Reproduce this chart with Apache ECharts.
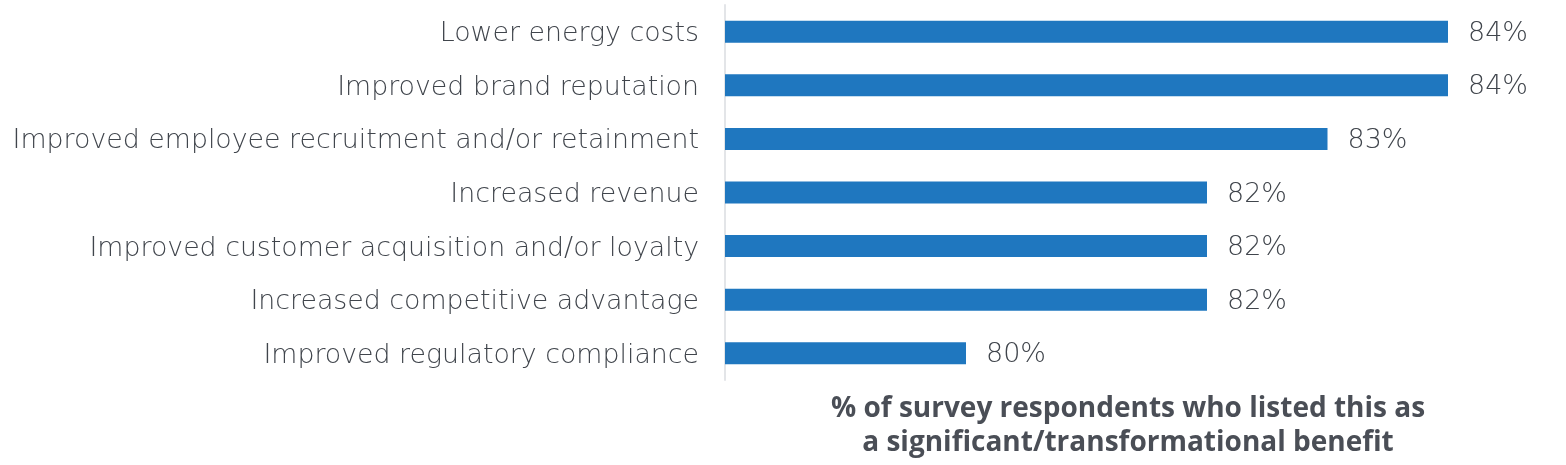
<!DOCTYPE html>
<html><head><meta charset="utf-8">
<script src="https://cdn.jsdelivr.net/npm/echarts@6/dist/echarts.min.js"></script>
<style>html,body{margin:0;padding:0;background:#fff}#c{width:1566px;height:465px}</style>
</head><body><div id="c"></div>
<script>
const categories = ["Lower energy costs","Improved brand reputation","Improved employee recruitment and/or retainment","Increased revenue","Improved customer acquisition and/or loyalty","Increased competitive advantage","Improved regulatory compliance"];
const values = [84,84,83,82,82,82,80];
const axisTitle = ["% of survey respondents who listed this as","a significant/transformational benefit"];

const chart = echarts.init(document.getElementById('c'));
chart.setOption({
  animation:false,
  grid:{left:725,right:118,top:5,bottom:85,containLabel:false},
  xAxis:{type:'value',min:78,max:84,show:false},
  yAxis:{type:'category',inverse:true,data:categories,
    axisLine:{show:true,lineStyle:{color:'#e3e5e8',width:2}},
    axisTick:{show:false},
    axisLabel:{margin:26,formatter:v=>'{a|'+v+'}',
      rich:{a:{color:'#40454c',fontSize:26.8,fontFamily:'DejaVu Sans',fontWeight:200,padding:[5,0,0,0]}}}},
  series:[{type:'bar',data:values,barWidth:22,itemStyle:{color:'#1f77bf'},
    label:{show:true,position:'right',distance:20,offset:[0,2],formatter:'{c}%',color:'#40454c',fontSize:27,fontFamily:'DejaVu Sans',fontWeight:200}}],
  graphic:[{type:'text',x:1128,y:392,style:{text:axisTitle.join('\n'),align:'center',verticalAlign:'top',fill:'#4a4e56',font:'bold 28px "Open Sans"',lineHeight:34}}]
});
</script></body></html>
